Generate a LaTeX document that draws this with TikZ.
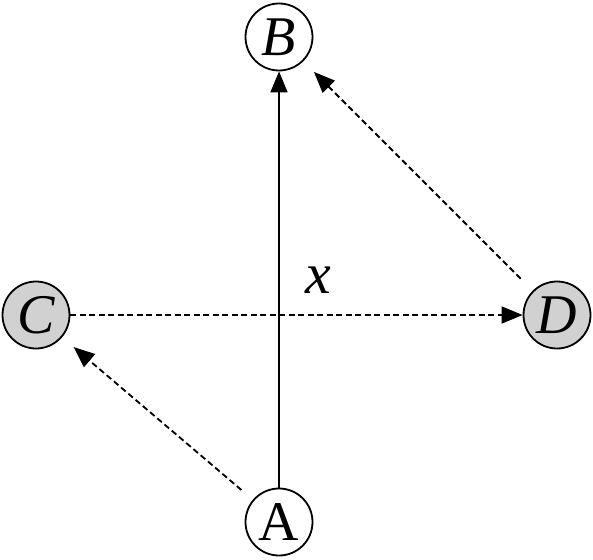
\documentclass[tikz,border=0pt]{standalone}
\usepackage{fontspec}
\setmainfont{Liberation Serif}
\usetikzlibrary{arrows.meta}
\begin{document}
\begin{tikzpicture}[x=1pt,y=-1pt,
  vtx/.style={circle,draw,line width=1.8pt,minimum size=67pt,inner sep=0pt,font=\fontsize{56}{56}\selectfont},
  grey/.style={fill=black!18},
  conn/.style={line width=1.8pt,-{Triangle[length=21pt,width=17pt]}},
  dsh/.style={conn,dash pattern=on 6pt off 3.5pt}]
\useasboundingbox (0,0) rectangle (593,559);
\node[vtx] (B) at (279,37) {\itshape B};
\node[vtx,grey] (C) at (36,315) {\itshape C};
\node[vtx,grey] (D) at (557,315) {\itshape D};
\node[vtx] (A) at (279,522) {A};
\draw[conn] (A) -- (B);
\draw[dsh] (C) -- (D);
\draw[dsh,shorten <=15pt,shorten >=15pt] (A) -- (C);
\draw[dsh,shorten <=17pt,shorten >=15pt] (D) -- (B);
\node[font=\fontsize{58}{58}\selectfont\itshape] (x) at (318,280) {x};
\end{tikzpicture}
\end{document}
